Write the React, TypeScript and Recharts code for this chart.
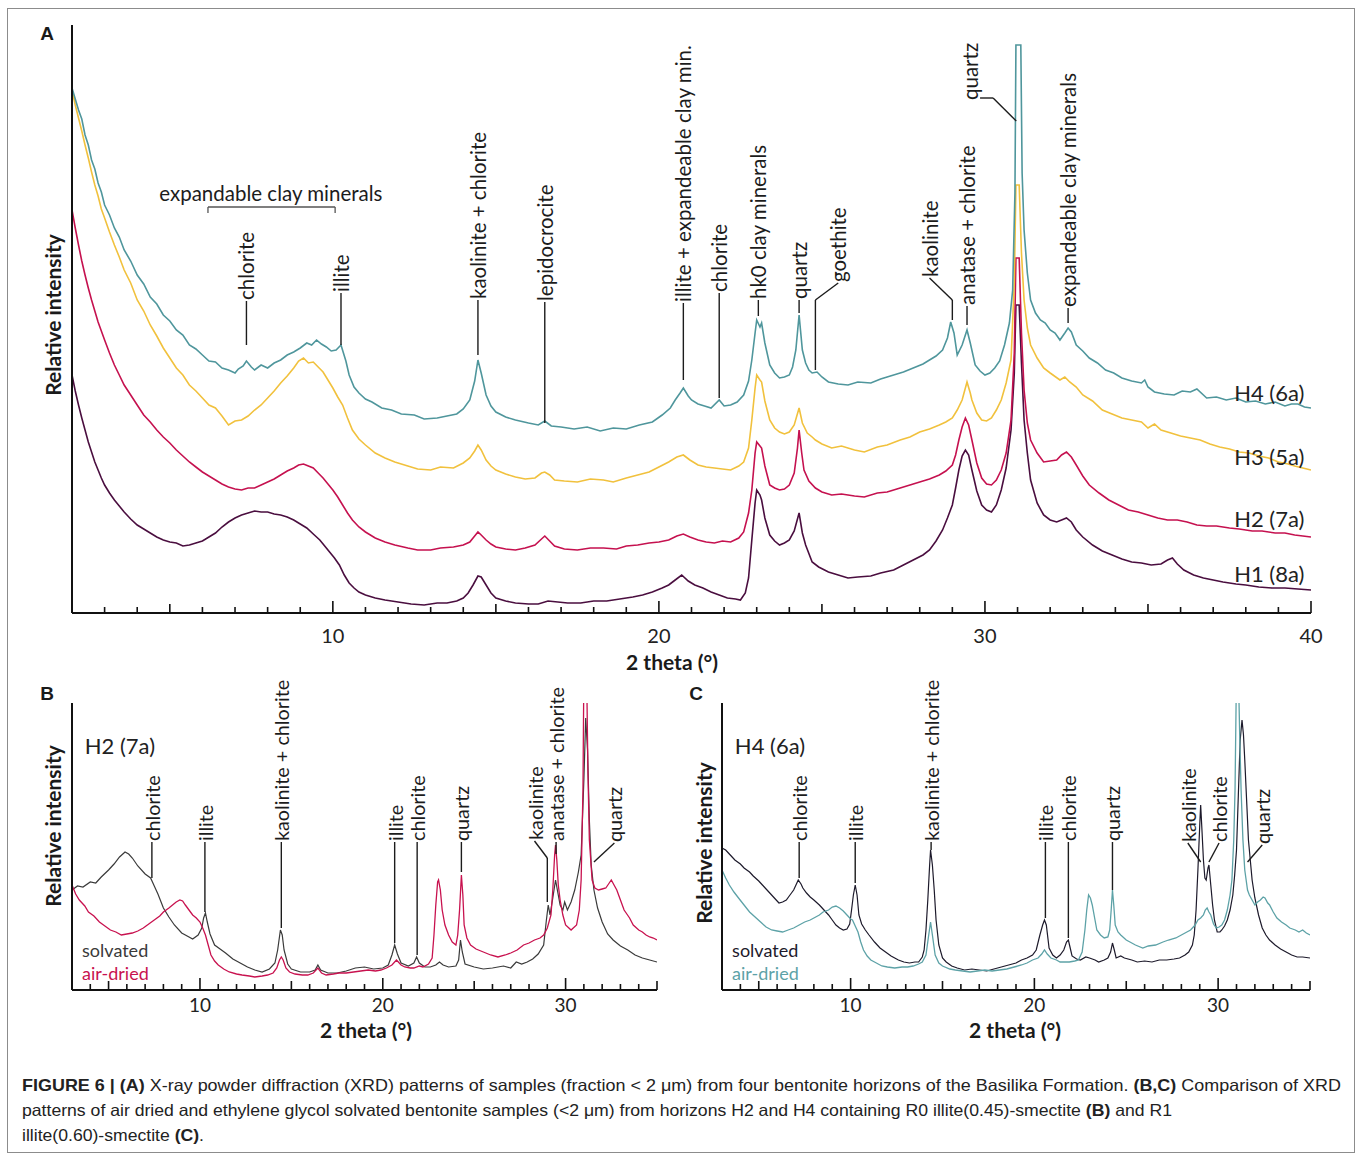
import React from 'react';
import { LineChart, Line, XAxis, YAxis, ReferenceLine, ReferenceDot } from 'recharts';

const FONT = "Lato, 'Open Sans', 'DejaVu Sans', sans-serif";
const INK = '#1c1c1c';

type P = [number, number];

// ---------------- Panel A data: 2θ (°) vs relative intensity ----------------
const h4: P[] = [[2.0,525],[2.1,514],[2.2,503],[2.3,494],[2.4,478],[2.5,468],[2.6,453],[2.7,444],[2.8,430],[2.9,421],[3.0,408],[3.15,398],[3.3,385],[3.45,376],[3.6,363],[3.8,352],[4.0,338],[4.2,329],[4.4,316],[4.6,309],[4.8,298],[5.0,292],[5.2,283],[5.4,278],[5.6,268],[5.8,264],[6.0,258],[6.2,252],[6.4,251],[6.6,245],[6.8,243],[7.0,240],[7.1,244],[7.25,247],[7.35,252],[7.5,246],[7.6,243],[7.8,248],[8.0,245],[8.2,250],[8.4,253],[8.6,258],[8.8,261],[9.0,265],[9.2,270],[9.35,268],[9.5,273],[9.65,269],[9.8,266],[9.95,262],[10.1,263],[10.25,268],[10.4,252],[10.5,238],[10.65,226],[10.8,220],[11.0,214],[11.2,211],[11.5,205],[11.8,203],[12.1,199],[12.5,198],[12.8,194],[13.2,195],[13.5,197],[13.8,199],[14.0,204],[14.2,213],[14.35,232],[14.45,253],[14.55,240],[14.7,218],[14.85,207],[15.0,201],[15.3,196],[15.6,193],[16.0,190],[16.3,188],[16.5,192],[16.7,187],[17.0,186],[17.4,184],[17.8,186],[18.2,182],[18.6,185],[19.0,184],[19.4,188],[19.8,191],[20.1,198],[20.35,205],[20.5,213],[20.65,220],[20.75,225],[20.9,217],[21.0,213],[21.2,209],[21.4,207],[21.6,205],[21.85,213],[22.0,207],[22.2,208],[22.4,211],[22.6,218],[22.75,232],[22.85,253],[22.95,280],[23.0,293],[23.1,286],[23.15,290],[23.25,270],[23.4,248],[23.55,240],[23.7,235],[23.85,236],[24.0,238],[24.1,246],[24.2,263],[24.3,298],[24.4,263],[24.5,250],[24.6,243],[24.7,240],[24.85,241],[25.0,236],[25.2,231],[25.5,229],[25.8,228],[26.1,231],[26.5,230],[26.8,234],[27.2,238],[27.5,241],[27.8,245],[28.1,249],[28.3,253],[28.5,257],[28.7,263],[28.85,275],[28.95,291],[29.05,280],[29.15,258],[29.3,268],[29.45,283],[29.55,270],[29.7,248],[29.85,242],[30.0,238],[30.15,240],[30.3,245],[30.45,252],[30.6,268],[30.75,290],[30.85,323],[30.92,420],[30.95,568],[31.1,568],[31.14,440],[31.2,383],[31.3,340],[31.4,313],[31.55,300],[31.7,293],[31.85,290],[32.0,283],[32.15,280],[32.3,273],[32.45,280],[32.55,285],[32.65,281],[32.8,268],[33.0,262],[33.2,255],[33.45,250],[33.7,243],[33.95,240],[34.2,235],[34.5,232],[34.8,230],[34.9,233],[35.0,226],[35.2,221],[35.5,219],[35.8,218],[36.05,222],[36.3,221],[36.5,224],[36.8,215],[37.1,216],[37.4,213],[37.7,215],[38.0,211],[38.3,212],[38.6,209],[38.9,211],[39.2,207],[39.4,209],[39.6,209],[39.8,206],[40.0,205]];

const h3: P[] = [[2.0,523],[2.1,508],[2.2,495],[2.3,482],[2.4,468],[2.5,455],[2.6,441],[2.7,428],[2.8,417],[2.9,404],[3.0,395],[3.15,381],[3.3,368],[3.45,356],[3.6,343],[3.8,330],[4.0,313],[4.2,302],[4.4,288],[4.6,277],[4.8,265],[5.0,255],[5.2,245],[5.4,238],[5.6,228],[5.8,222],[6.0,215],[6.2,208],[6.4,205],[6.6,197],[6.8,188],[7.0,192],[7.2,193],[7.4,197],[7.6,203],[7.8,208],[8.0,215],[8.2,222],[8.4,230],[8.6,237],[8.8,245],[8.95,252],[9.1,255],[9.25,250],[9.4,251],[9.55,246],[9.7,241],[9.85,233],[10.0,225],[10.15,216],[10.3,208],[10.45,195],[10.6,183],[10.8,174],[11.0,168],[11.3,160],[11.6,155],[11.9,151],[12.3,147],[12.6,144],[13.0,143],[13.3,146],[13.7,145],[14.0,150],[14.2,155],[14.35,162],[14.45,168],[14.55,163],[14.7,153],[14.85,147],[15.0,143],[15.3,139],[15.6,136],[15.9,134],[16.2,135],[16.4,140],[16.5,141],[16.65,138],[16.8,133],[17.1,132],[17.5,131],[17.9,134],[18.3,133],[18.6,131],[19.0,135],[19.35,138],[19.7,141],[20.0,146],[20.3,151],[20.55,156],[20.75,158],[20.95,153],[21.2,148],[21.45,146],[21.7,145],[21.95,144],[22.2,143],[22.45,147],[22.6,151],[22.75,165],[22.85,193],[22.95,225],[23.0,238],[23.1,233],[23.15,231],[23.25,212],[23.4,193],[23.55,185],[23.7,181],[23.85,179],[24.0,181],[24.15,188],[24.3,205],[24.4,190],[24.55,180],[24.7,176],[24.8,173],[25.0,169],[25.3,165],[25.6,167],[26.0,163],[26.3,161],[26.7,166],[27.0,168],[27.4,173],[27.7,176],[28.0,181],[28.3,184],[28.6,188],[28.8,191],[29.0,195],[29.15,203],[29.3,213],[29.45,231],[29.55,220],[29.6,213],[29.75,200],[29.9,193],[30.05,192],[30.2,195],[30.35,203],[30.5,213],[30.65,230],[30.8,253],[30.9,330],[30.95,428],[31.05,428],[31.12,360],[31.2,313],[31.3,285],[31.4,268],[31.6,255],[31.8,245],[32.0,240],[32.3,233],[32.45,236],[32.6,231],[32.8,226],[33.0,218],[33.3,212],[33.6,203],[33.9,199],[34.2,195],[34.5,193],[34.8,191],[35.0,185],[35.2,189],[35.4,183],[35.7,180],[36.0,177],[36.3,175],[36.6,173],[36.9,169],[37.2,166],[37.5,164],[37.8,161],[38.1,160],[38.4,157],[38.7,155],[39.0,151],[39.3,149],[39.5,147],[39.75,145],[40.0,143]];

const h2: P[] = [[2.0,403],[2.1,385],[2.2,368],[2.3,352],[2.4,338],[2.5,325],[2.6,313],[2.7,302],[2.8,291],[2.9,282],[3.0,273],[3.15,260],[3.3,248],[3.45,238],[3.6,228],[3.8,218],[4.0,208],[4.2,198],[4.4,191],[4.6,183],[4.8,176],[5.0,170],[5.2,163],[5.4,157],[5.6,151],[5.8,146],[6.0,141],[6.2,137],[6.4,133],[6.6,129],[6.8,126],[7.0,124],[7.2,123],[7.4,125],[7.6,125],[7.8,128],[8.0,131],[8.2,134],[8.4,138],[8.6,142],[8.8,145],[8.95,148],[9.1,149],[9.25,147],[9.4,145],[9.55,140],[9.7,135],[9.85,129],[10.0,123],[10.15,116],[10.3,108],[10.45,100],[10.6,93],[10.8,86],[11.0,81],[11.3,75],[11.6,71],[11.9,68],[12.3,65],[12.6,63],[13.0,63],[13.3,65],[13.7,66],[14.0,68],[14.2,71],[14.35,77],[14.45,81],[14.55,78],[14.7,73],[14.85,69],[15.0,66],[15.3,64],[15.6,63],[15.9,65],[16.2,68],[16.4,74],[16.5,77],[16.65,72],[16.8,67],[17.1,64],[17.5,63],[17.9,65],[18.3,65],[18.7,64],[19.0,67],[19.35,68],[19.7,70],[20.0,71],[20.3,73],[20.55,77],[20.75,79],[20.95,76],[21.2,73],[21.45,71],[21.7,70],[21.95,72],[22.2,71],[22.45,75],[22.6,81],[22.75,100],[22.85,123],[22.95,160],[23.0,171],[23.1,167],[23.15,165],[23.25,147],[23.4,128],[23.55,125],[23.7,123],[23.85,124],[24.0,128],[24.15,140],[24.25,165],[24.3,183],[24.38,160],[24.45,143],[24.6,132],[24.8,125],[25.0,121],[25.3,118],[25.6,119],[26.0,117],[26.3,116],[26.7,120],[27.0,121],[27.4,125],[27.7,128],[28.0,131],[28.3,134],[28.6,138],[28.8,142],[29.0,148],[29.1,158],[29.2,173],[29.3,186],[29.4,195],[29.5,188],[29.6,173],[29.75,150],[29.9,135],[30.05,129],[30.2,128],[30.35,133],[30.5,143],[30.65,160],[30.8,193],[30.9,260],[30.95,355],[31.05,355],[31.12,280],[31.2,223],[31.3,190],[31.4,173],[31.6,160],[31.8,151],[32.0,152],[32.2,153],[32.35,158],[32.5,161],[32.65,156],[32.8,148],[33.0,137],[33.2,128],[33.5,120],[33.8,113],[34.1,108],[34.4,103],[34.7,101],[35.0,98],[35.3,95],[35.6,93],[35.9,93],[36.2,91],[36.5,88],[36.8,87],[37.1,87],[37.5,85],[37.8,84],[38.2,82],[38.5,82],[38.9,80],[39.2,80],[39.5,78],[39.75,77],[40.0,76]];

const h1: P[] = [[2.0,238],[2.1,222],[2.2,208],[2.3,195],[2.4,183],[2.5,171],[2.6,161],[2.7,151],[2.8,143],[2.9,135],[3.0,128],[3.15,120],[3.3,113],[3.45,107],[3.6,101],[3.8,94],[4.0,88],[4.2,84],[4.4,80],[4.6,76],[4.8,73],[5.0,71],[5.2,70],[5.4,67],[5.6,68],[5.8,70],[6.0,72],[6.2,76],[6.4,80],[6.6,86],[6.8,91],[7.0,95],[7.2,98],[7.4,100],[7.6,102],[7.8,101],[8.0,101],[8.2,99],[8.4,98],[8.6,96],[8.8,93],[9.0,89],[9.2,85],[9.4,79],[9.6,73],[9.75,67],[9.9,61],[10.05,55],[10.2,48],[10.35,38],[10.5,30],[10.65,25],[10.8,21],[11.0,18],[11.3,15],[11.6,13],[12.0,11],[12.4,9],[12.8,8],[13.2,10],[13.5,10],[13.8,12],[14.0,15],[14.15,20],[14.3,28],[14.45,37],[14.55,36],[14.7,28],[14.85,20],[15.0,15],[15.3,12],[15.6,10],[16.0,9],[16.3,9],[16.6,12],[16.9,11],[17.2,10],[17.6,10],[18.0,12],[18.4,12],[18.8,14],[19.2,16],[19.5,18],[19.8,21],[20.1,25],[20.3,28],[20.5,33],[20.7,38],[20.9,32],[21.1,28],[21.35,25],[21.6,21],[21.85,18],[22.1,15],[22.35,14],[22.5,13],[22.65,20],[22.75,35],[22.85,73],[22.95,110],[23.0,123],[23.1,118],[23.15,113],[23.25,95],[23.4,78],[23.55,72],[23.7,68],[23.85,70],[24.0,73],[24.15,82],[24.3,100],[24.4,80],[24.5,68],[24.7,51],[24.9,46],[25.2,41],[25.5,38],[25.8,35],[26.1,36],[26.5,37],[26.8,40],[27.2,43],[27.5,48],[27.8,53],[28.1,58],[28.3,63],[28.5,72],[28.7,83],[28.85,95],[29.0,108],[29.1,125],[29.2,143],[29.3,157],[29.4,163],[29.5,158],[29.6,143],[29.75,122],[29.9,108],[30.05,103],[30.2,101],[30.35,108],[30.5,123],[30.65,145],[30.8,183],[30.9,240],[30.95,308],[31.05,308],[31.12,250],[31.2,193],[31.3,160],[31.4,133],[31.6,110],[31.8,98],[32.0,93],[32.2,91],[32.35,93],[32.5,95],[32.65,91],[32.8,83],[33.0,76],[33.3,68],[33.6,62],[33.9,58],[34.2,54],[34.5,51],[34.8,50],[35.1,48],[35.4,49],[35.6,53],[35.75,55],[35.9,49],[36.1,43],[36.4,38],[36.7,35],[37.0,33],[37.3,31],[37.7,29],[38.0,28],[38.4,26],[38.8,25],[39.2,25],[39.6,24],[40.0,23]];

// ---------------- Panel B data (H2) ----------------
const bSolvated: P[] = [[3.0,100],[3.3,104],[3.6,103],[4.0,108],[4.3,107],[4.6,113],[5.0,120],[5.3,126],[5.6,133],[5.9,138],[6.1,136],[6.3,132],[6.6,124],[7.0,116],[7.3,112],[7.5,104],[7.7,96],[8.0,82],[8.3,73],[8.6,65],[9.0,57],[9.3,54],[9.6,51],[9.9,55],[10.1,62],[10.2,72],[10.3,77],[10.4,68],[10.55,56],[10.8,45],[11.1,41],[11.4,37],[11.8,31],[12.2,27],[12.6,23],[13.0,20],[13.4,18],[13.8,21],[14.1,27],[14.25,40],[14.4,60],[14.5,55],[14.6,40],[14.8,26],[15.0,21],[15.5,18],[16.0,18],[16.3,20],[16.45,25],[16.6,20],[17.0,17],[17.5,17],[18.0,19],[18.5,22],[19.0,23],[19.5,21],[20.0,22],[20.3,25],[20.5,35],[20.65,45],[20.8,36],[21.0,27],[21.4,24],[21.7,27],[21.85,33],[22.0,27],[22.3,23],[22.6,23],[22.9,25],[23.1,28],[23.3,25],[23.6,23],[24.0,24],[24.15,30],[24.25,50],[24.35,38],[24.5,26],[25.0,23],[25.5,21],[26.0,22],[26.6,24],[27.0,22],[27.3,28],[27.6,26],[27.9,28],[28.2,31],[28.5,36],[28.8,45],[28.95,70],[29.05,85],[29.15,75],[29.3,92],[29.45,110],[29.6,95],[29.7,85],[29.85,80],[29.95,88],[30.1,80],[30.3,88],[30.5,100],[30.7,118],[30.85,135],[31.0,210],[31.1,272],[31.2,240],[31.3,170],[31.4,125],[31.55,100],[31.75,82],[32.0,68],[32.3,56],[32.6,50],[33.0,44],[33.4,40],[33.8,35],[34.2,32],[34.6,30],[35.0,28]];

const bAirDried: P[] = [[3.0,105],[3.2,96],[3.4,90],[3.7,84],[3.9,78],[4.2,74],[4.5,68],[4.8,64],[5.1,60],[5.4,58],[5.7,55],[6.0,56],[6.3,57],[6.6,59],[6.9,62],[7.2,66],[7.5,70],[7.8,74],[8.0,78],[8.3,82],[8.5,85],[8.7,88],[8.9,90],[9.05,89],[9.2,85],[9.4,80],[9.6,75],[9.8,72],[10.0,68],[10.15,62],[10.3,55],[10.45,45],[10.6,35],[10.8,29],[11.0,25],[11.3,21],[11.6,18],[12.0,16],[12.3,15],[12.7,14],[13.0,13],[13.4,14],[13.7,15],[14.0,17],[14.2,22],[14.35,30],[14.45,33],[14.55,30],[14.7,22],[14.9,18],[15.2,16],[15.6,15],[15.9,15],[16.2,17],[16.45,22],[16.65,17],[16.9,15],[17.3,16],[17.6,17],[18.0,17],[18.4,18],[18.8,19],[19.2,20],[19.6,19],[19.9,20],[20.2,22],[20.5,25],[20.75,30],[21.0,25],[21.2,23],[21.5,22],[21.7,22],[22.0,24],[22.2,23],[22.5,26],[22.7,32],[22.8,55],[22.9,85],[23.0,108],[23.05,110],[23.15,100],[23.25,80],[23.4,65],[23.6,55],[23.8,48],[24.0,45],[24.1,55],[24.2,80],[24.3,115],[24.38,95],[24.45,65],[24.6,52],[24.8,45],[25.1,41],[25.5,38],[25.9,35],[26.3,33],[26.7,35],[27.0,37],[27.35,40],[27.7,45],[28.0,47],[28.3,50],[28.6,52],[28.8,55],[29.0,62],[29.2,75],[29.3,100],[29.4,135],[29.45,145],[29.52,130],[29.6,105],[29.7,90],[29.85,75],[30.0,65],[30.3,60],[30.6,65],[30.75,80],[30.85,110],[30.95,200],[31.0,320],[31.15,320],[31.22,220],[31.3,150],[31.45,110],[31.6,102],[31.8,100],[32.0,101],[32.2,102],[32.35,106],[32.5,110],[32.65,105],[32.8,100],[33.0,90],[33.2,80],[33.5,72],[33.7,65],[34.0,60],[34.2,58],[34.4,55],[34.6,53],[34.8,52],[35.0,50]];

// ---------------- Panel C data (H4) ----------------
const cSolvated: P[] = [[3.0,142],[3.2,140],[3.4,136],[3.7,130],[4.0,126],[4.2,122],[4.5,118],[4.7,114],[5.0,109],[5.2,105],[5.5,99],[5.7,95],[5.9,91],[6.1,87],[6.3,88],[6.5,90],[6.7,95],[6.9,100],[7.05,106],[7.15,110],[7.3,106],[7.4,102],[7.6,97],[7.8,93],[8.0,90],[8.3,85],[8.6,79],[8.8,75],[9.0,70],[9.2,65],[9.4,62],[9.6,60],[9.8,61],[9.95,66],[10.05,80],[10.15,95],[10.25,105],[10.35,95],[10.45,75],[10.6,66],[10.8,60],[11.0,55],[11.3,48],[11.6,42],[11.9,38],[12.2,34],[12.6,30],[12.9,28],[13.2,27],[13.5,28],[13.7,28],[13.9,33],[14.0,40],[14.1,60],[14.2,90],[14.3,125],[14.35,140],[14.45,125],[14.55,100],[14.65,70],[14.8,45],[15.0,32],[15.2,28],[15.5,24],[15.8,22],[16.2,20],[16.6,21],[17.0,20],[17.4,19],[17.8,21],[18.2,23],[18.6,25],[19.0,27],[19.3,30],[19.6,32],[19.9,35],[20.1,40],[20.3,55],[20.45,65],[20.55,70],[20.65,65],[20.8,42],[21.0,35],[21.2,32],[21.4,35],[21.6,40],[21.75,48],[21.85,50],[21.95,42],[22.05,34],[22.3,31],[22.5,30],[22.8,33],[23.0,32],[23.3,30],[23.5,28],[23.8,30],[24.0,32],[24.15,38],[24.25,47],[24.35,40],[24.45,32],[24.7,34],[24.9,32],[25.3,30],[25.6,28],[26.0,29],[26.4,28],[26.8,30],[27.2,30],[27.6,31],[27.9,32],[28.2,35],[28.4,38],[28.6,45],[28.7,55],[28.8,80],[28.9,120],[29.0,165],[29.05,185],[29.12,160],[29.2,130],[29.28,112],[29.35,110],[29.45,122],[29.5,125],[29.6,105],[29.7,85],[29.8,70],[29.95,58],[30.1,58],[30.2,60],[30.35,64],[30.5,70],[30.65,80],[30.8,95],[30.9,115],[31.0,140],[31.1,195],[31.2,250],[31.3,270],[31.38,255],[31.45,230],[31.55,190],[31.65,150],[31.85,110],[32.0,92],[32.2,75],[32.4,62],[32.6,55],[32.8,50],[33.1,45],[33.4,41],[33.7,38],[34.0,35],[34.3,33],[34.6,33],[35.0,32]];

const cAirDried: P[] = [[3.0,120],[3.2,112],[3.4,105],[3.65,98],[3.9,92],[4.2,85],[4.5,78],[4.8,73],[5.1,68],[5.4,63],[5.7,60],[6.0,59],[6.3,58],[6.6,60],[6.9,62],[7.2,65],[7.5,68],[7.8,70],[8.0,72],[8.3,75],[8.5,78],[8.8,80],[9.0,83],[9.2,84],[9.4,82],[9.6,79],[9.8,75],[10.0,71],[10.1,70],[10.25,64],[10.4,58],[10.55,48],[10.7,40],[10.9,34],[11.1,30],[11.4,27],[11.7,24],[12.0,23],[12.4,22],[12.8,23],[13.1,23],[13.4,24],[13.7,26],[13.9,28],[14.1,35],[14.25,55],[14.35,68],[14.45,55],[14.6,35],[14.8,27],[15.0,24],[15.4,21],[15.7,20],[16.1,19],[16.5,18],[16.9,19],[17.3,20],[17.7,19],[18.1,20],[18.5,21],[18.9,23],[19.3,25],[19.6,27],[19.9,30],[20.2,32],[20.4,36],[20.55,40],[20.7,36],[20.9,32],[21.2,30],[21.4,28],[21.7,28],[21.9,28],[22.2,29],[22.4,30],[22.6,38],[22.75,60],[22.85,80],[22.95,95],[23.05,92],[23.15,85],[23.3,70],[23.4,60],[23.6,55],[23.8,52],[24.0,53],[24.1,60],[24.18,80],[24.25,100],[24.32,85],[24.4,65],[24.55,58],[24.7,55],[25.0,50],[25.2,48],[25.5,45],[25.9,42],[26.2,44],[26.6,45],[27.0,48],[27.3,50],[27.7,52],[28.0,55],[28.3,58],[28.5,60],[28.75,65],[28.9,70],[29.05,72],[29.2,75],[29.3,80],[29.4,82],[29.5,78],[29.6,75],[29.75,66],[29.9,62],[30.05,63],[30.2,65],[30.35,70],[30.5,80],[30.65,95],[30.75,110],[30.85,150],[30.92,200],[31.0,320],[31.1,320],[31.18,250],[31.25,200],[31.35,150],[31.45,120],[31.6,100],[31.7,95],[31.85,90],[32.0,85],[32.15,88],[32.3,90],[32.45,93],[32.55,92],[32.7,87],[32.8,85],[33.0,78],[33.2,72],[33.45,68],[33.7,65],[33.9,62],[34.2,60],[34.4,58],[34.6,60],[34.8,57],[35.0,55]];

// ---------------- Ticks ----------------
const ticksA = [3,4,5,6,7,8,9,10,11,12,13,14,15,16,17,18,19,20,21,22,23,24,25,26,27,28,29,30,31,32,33,34,35,36,37,38,39,40];
const tickLabelsA = [10,20,30,40];
const ticksBC = [4,5,6,7,8,9,10,11,12,13,14,15,16,17,18,19,20,21,22,23,24,25,26,27,28,29,30,31,32,33,34,35];
const tickLabelsBC = [10,20,30];

// ---------------- Peak annotations: leader path (2θ, intensity), optional text anchor ----------------
type Ann = { t: string; p: P[]; a?: P };
const annA: Ann[] = [
  { t: 'chlorite', p: [[7.35,268],[7.35,312]] },
  { t: 'illite', p: [[10.25,268],[10.25,320]] },
  { t: 'kaolinite + chlorite', p: [[14.45,258],[14.45,313]] },
  { t: 'lepidocrocite', p: [[16.5,190],[16.5,311]] },
  { t: 'illite + expandeable clay min.', p: [[20.75,233],[20.75,310]] },
  { t: 'chlorite', p: [[21.85,215],[21.85,320]] },
  { t: 'hk0 clay minerals', p: [[23.05,297],[23.05,313]] },
  { t: 'quartz', p: [[24.3,300],[24.3,313]] },
  { t: 'goethite', p: [[24.8,243],[24.8,313],[25.5,330]] },
  { t: 'kaolinite', p: [[29.0,293],[29.0,313],[28.3,335]] },
  { t: 'anatase + chlorite', p: [[29.45,288],[29.45,307]] },
  { t: 'quartz', p: [[30.96,492],[30.25,515],[29.85,515]], a: [29.55,512] },
  { t: 'expandeable clay minerals', p: [[32.55,290],[32.55,305]] },
];
const bracketA: P[] = [[6.17,400],[6.17,406],[10.07,406],[10.07,400]];

const annB: Ann[] = [
  { t: 'chlorite', p: [[7.37,112],[7.37,148]] },
  { t: 'illite', p: [[10.27,78],[10.27,148]] },
  { t: 'kaolinite + chlorite', p: [[14.45,62],[14.45,148]] },
  { t: 'illite', p: [[20.65,47],[20.65,148]] },
  { t: 'chlorite', p: [[21.88,35],[21.88,148]] },
  { t: 'quartz', p: [[24.3,118],[24.3,148]] },
  { t: 'kaolinite', p: [[29.0,88],[29.0,132],[28.3,149]] },
  { t: 'anatase + chlorite', p: [[29.48,136],[29.48,148]] },
  { t: 'quartz', p: [[31.55,128],[32.67,147]] },
];

const annC: Ann[] = [
  { t: 'chlorite', p: [[7.2,112],[7.2,148]] },
  { t: 'illite', p: [[10.25,107],[10.25,148]] },
  { t: 'kaolinite + chlorite', p: [[14.38,140],[14.38,148]] },
  { t: 'illite', p: [[20.6,72],[20.6,148]] },
  { t: 'chlorite', p: [[21.85,52],[21.85,148]] },
  { t: 'quartz', p: [[24.25,100],[24.25,148]] },
  { t: 'kaolinite', p: [[29.05,128],[28.35,147]] },
  { t: 'chlorite', p: [[29.5,128],[30.05,147]] },
  { t: 'quartz', p: [[31.6,128],[32.4,145]] },
];

// series name labels (2θ, intensity)
const seriesLabelsA: { t: string; at: P }[] = [
  { t: 'H4 (6a)', at: [38.72, 221] },
  { t: 'H3 (5a)', at: [38.72, 157] },
  { t: 'H2 (7a)', at: [38.72, 95] },
  { t: 'H1 (8a)', at: [38.72, 40] },
];

const COLORS = {
  h4: '#4f969c', h3: '#f1c13d', h2: '#c5114f', h1: '#4a0e3f',
  bSolv: '#3a3a3a', bAir: '#c8124f', cSolv: '#1d1a2b', cAir: '#5da2a7',
};

const toObj = (a: P[]) => a.map(([x, y]) => ({ x, y }));

const makeTick = (labels: number[], fs: number, dy: number) => (props: any) => {
  const { x, y, payload } = props;
  const v = payload.value;
  const len = v % 10 === 0 ? 12 : v % 5 === 0 ? 9 : 6;
  return (
    <g>
      <line x1={x} x2={x} y1={y} y2={y - len} stroke="#111" strokeWidth={1.6} />
      {labels.includes(v) && (
        <text x={x} y={y + dy} textAnchor="middle" dominantBaseline="central" fontSize={fs} fontFamily={FONT} fill="#222">{v}</text>
      )}
    </g>
  );
};

const rotLabel = (text: string, fs: number) => (props: any) => {
  const vb = props.viewBox || {};
  const cx = (vb.x ?? 0) + (vb.width ?? 0) / 2;
  const cy = (vb.y ?? 0) + (vb.height ?? 0) / 2;
  return (
    <text x={cx + 1} y={cy} transform={`rotate(-90 ${cx} ${cy})`} textAnchor="start" dominantBaseline="central" fontSize={fs} fontFamily={FONT} fill={INK}>{text}</text>
  );
};

const flatLabel = (text: string, fs: number, color: string, anchor: string = 'middle') => (props: any) => {
  const vb = props.viewBox || {};
  const cx = (vb.x ?? 0) + (vb.width ?? 0) / 2;
  const cy = (vb.y ?? 0) + (vb.height ?? 0) / 2;
  return (
    <text x={cx} y={cy} textAnchor={anchor} dominantBaseline="central" fontSize={fs} fontFamily={FONT} fill={color}>{text}</text>
  );
};

function annotations(list: Ann[], fs: number, prefix: string) {
  const out: any[] = [];
  list.forEach((a, i) => {
    for (let k = 0; k < a.p.length - 1; k++) {
      out.push(
        <ReferenceLine key={`${prefix}l${i}-${k}`} segment={[{ x: a.p[k][0], y: a.p[k][1] }, { x: a.p[k + 1][0], y: a.p[k + 1][1] }]} stroke={INK} strokeWidth={1.4} ifOverflow="visible" />
      );
    }
    const anc = a.a ?? a.p[a.p.length - 1];
    out.push(
      <ReferenceDot key={`${prefix}d${i}`} x={anc[0]} y={anc[1]} r={0} fill="none" stroke="none" ifOverflow="visible" label={rotLabel(a.t, fs)} />
    );
  });
  return out;
}

function polyline(pts: P[], prefix: string, color: string) {
  const out: any[] = [];
  for (let k = 0; k < pts.length - 1; k++) {
    out.push(
      <ReferenceLine key={`${prefix}${k}`} segment={[{ x: pts[k][0], y: pts[k][1] }, { x: pts[k + 1][0], y: pts[k + 1][1] }]} stroke={color} strokeWidth={1.3} ifOverflow="visible" />
    );
  }
  return out;
}

const Txt = ({ x, y, children, size = 20, weight = 400, rotate = 0, color = '#1a1a1a', family = FONT }: any) => (
  <div style={{ position: 'absolute', left: x, top: y, transform: `translate(-50%, -50%) rotate(${rotate}deg)`, whiteSpace: 'nowrap', fontSize: size, fontWeight: weight, color, fontFamily: family, lineHeight: 1 }}>{children}</div>
);

const axisStroke = { stroke: '#111', strokeWidth: 2 };

function PanelA() {
  return (
    <LineChart width={1358} height={680} margin={{ top: 25, right: 47, bottom: 66, left: 71 }}>
      <XAxis type="number" dataKey="x" domain={[2, 40]} ticks={ticksA} interval={0} height={1} tickSize={0} tickMargin={0} tickLine={false} axisLine={axisStroke} tick={makeTick(tickLabelsA, 20, 22)} allowDataOverflow />
      <YAxis type="number" dataKey="y" domain={[0, 588]} width={1} tick={false} tickLine={false} axisLine={axisStroke} allowDataOverflow />
      <Line data={toObj(h1)} dataKey="y" type="linear" dot={false} stroke={COLORS.h1} strokeWidth={1.6} isAnimationActive={false} />
      <Line data={toObj(h2)} dataKey="y" type="linear" dot={false} stroke={COLORS.h2} strokeWidth={1.6} isAnimationActive={false} />
      <Line data={toObj(h3)} dataKey="y" type="linear" dot={false} stroke={COLORS.h3} strokeWidth={1.6} isAnimationActive={false} />
      <Line data={toObj(h4)} dataKey="y" type="linear" dot={false} stroke={COLORS.h4} strokeWidth={1.6} isAnimationActive={false} />
      {annotations(annA, 20.5, 'a')}
      {polyline(bracketA, 'br', '#555')}
      <ReferenceDot x={8.1} y={420} r={0} fill="none" stroke="none" ifOverflow="visible" label={flatLabel('expandable clay minerals', 20.5, INK)} />
      {seriesLabelsA.map((s, i) => (
        <ReferenceDot key={`s${i}`} x={s.at[0]} y={s.at[1]} r={0} fill="none" stroke="none" ifOverflow="visible" label={flatLabel(s.t, 22, '#222')} />
      ))}
    </LineChart>
  );
}

function PanelBC({ solv, air, solvColor, airColor, ann, name, right, left, prefix }: any) {
  return (
    <LineChart width={680} height={390} margin={{ top: 43, right, bottom: 59, left }}>
      <XAxis type="number" dataKey="x" domain={[3, 35]} ticks={ticksBC} interval={0} height={1} tickSize={0} tickMargin={0} tickLine={false} axisLine={axisStroke} tick={makeTick(tickLabelsBC, 19, 14)} allowDataOverflow />
      <YAxis type="number" dataKey="y" domain={[0, 287]} width={1} tick={false} tickLine={false} axisLine={axisStroke} allowDataOverflow />
      <Line data={toObj(solv)} dataKey="y" type="linear" dot={false} stroke={solvColor} strokeWidth={1.2} isAnimationActive={false} />
      <Line data={toObj(air)} dataKey="y" type="linear" dot={false} stroke={airColor} strokeWidth={1.3} isAnimationActive={false} />
      {annotations(ann, 19.8, prefix)}
      <ReferenceDot x={3.7} y={245} r={0} fill="none" stroke="none" ifOverflow="visible" label={flatLabel(name, 22, '#222', 'start')} />
      <ReferenceDot x={3.55} y={40} r={0} fill="none" stroke="none" ifOverflow="visible" label={flatLabel('solvated', 18, solvColor, 'start')} />
      <ReferenceDot x={3.55} y={17} r={0} fill="none" stroke="none" ifOverflow="visible" label={flatLabel('air-dried', 18, airColor, 'start')} />
    </LineChart>
  );
}

export default function App() {
  const capFont = "'Liberation Sans Narrow', 'Liberation Sans', Arial, sans-serif";
  return (
    <div style={{ position: 'absolute', left: 0, top: 0, width: 1358, height: 1155, background: '#fff', overflow: 'hidden' }}>
      <div style={{ position: 'absolute', left: 7, top: 8, width: 1346, height: 1143, border: '1px solid #8c8c8c' }} />
      <div style={{ position: 'absolute', left: 0, top: 0 }}>
        <PanelA />
      </div>
      <div style={{ position: 'absolute', left: 0, top: 660 }}>
        <PanelBC solv={bSolvated} air={bAirDried} solvColor={COLORS.bSolv} airColor={COLORS.bAir} ann={annB} name="H2 (7a)" left={71} right={23} prefix="b" />
      </div>
      <div style={{ position: 'absolute', left: 680, top: 660 }}>
        <PanelBC solv={cSolvated} air={cAirDried} solvColor={COLORS.cSolv} airColor={COLORS.cAir} ann={annC} name="H4 (6a)" left={41} right={50} prefix="c" />
      </div>

      <Txt x={47} y={33} size={19} weight={700} family="'Liberation Sans', Arial, sans-serif">A</Txt>
      <Txt x={47} y={693} size={19} weight={700} family="'Liberation Sans', Arial, sans-serif">B</Txt>
      <Txt x={696} y={693} size={19} weight={700} family="'Liberation Sans', Arial, sans-serif">C</Txt>

      <Txt x={52} y={315} size={21} weight={700} rotate={-90}>Relative intensity</Txt>
      <Txt x={52} y={826} size={21} weight={700} rotate={-90}>Relative intensity</Txt>
      <Txt x={703} y={843} size={21} weight={700} rotate={-90}>Relative intensity</Txt>

      <Txt x={672} y={661} size={21} weight={700}>2 theta (°)</Txt>
      <Txt x={366} y={1029} size={21} weight={700}>2 theta (°)</Txt>
      <Txt x={1015} y={1029} size={21} weight={700}>2 theta (°)</Txt>

      <svg width={1358} height={90} style={{ position: 'absolute', left: 0, top: 1065 }}>
        <text x={22} y={26} textLength={1319} lengthAdjust="spacingAndGlyphs" fontFamily={capFont} fontSize={16.5} fill="#222">
          <tspan fontWeight="bold">FIGURE 6 | (A)</tspan> X-ray powder diffraction (XRD) patterns of samples (fraction {'<'} 2 μm) from four bentonite horizons of the Basilika Formation. <tspan fontWeight="bold">(B,C)</tspan> Comparison of XRD
        </text>
        <text x={22} y={51} textLength={1150} lengthAdjust="spacingAndGlyphs" fontFamily={capFont} fontSize={16.5} fill="#222">
          patterns of air dried and ethylene glycol solvated bentonite samples ({'<'}2 μm) from horizons H2 and H4 containing R0 illite(0.45)-smectite <tspan fontWeight="bold">(B)</tspan> and R1
        </text>
        <text x={22} y={76} textLength={182} lengthAdjust="spacingAndGlyphs" fontFamily={capFont} fontSize={16.5} fill="#222">
          illite(0.60)-smectite <tspan fontWeight="bold">(C)</tspan>.
        </text>
      </svg>
    </div>
  );
}
